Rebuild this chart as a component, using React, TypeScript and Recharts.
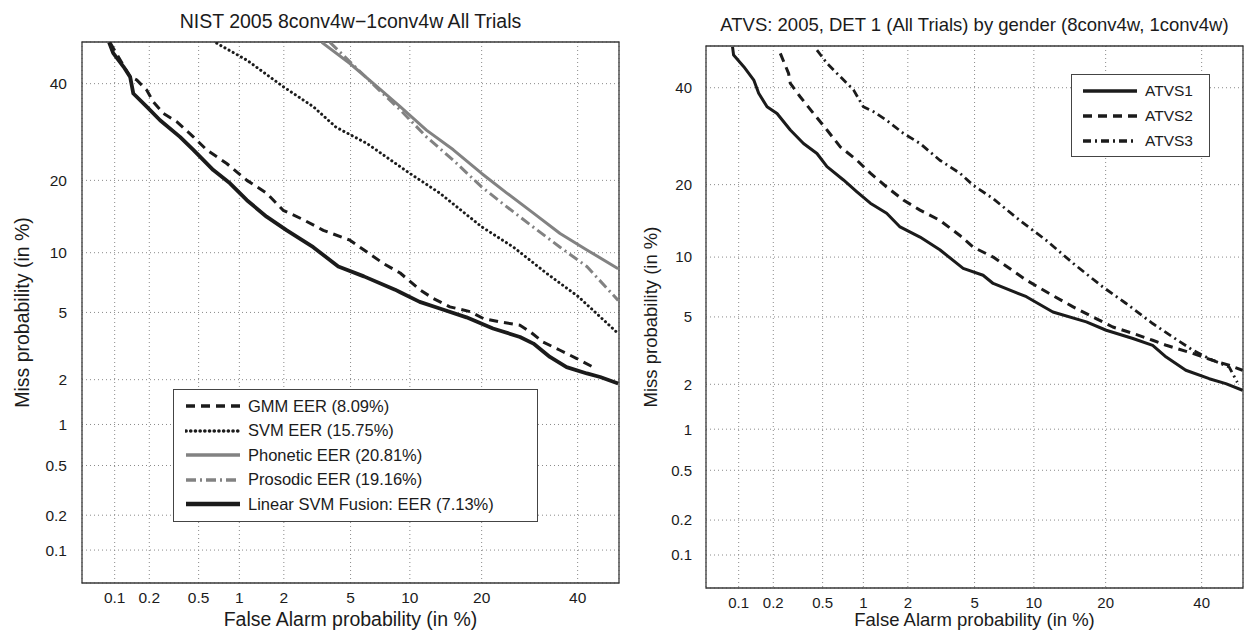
import React from 'react'
import { LineChart, Line, XAxis, YAxis, CartesianGrid, Legend, ReferenceArea } from 'recharts'

// DET plots: every value is a percentage, drawn on a normal-deviate (probit) scale
const tickLabels = [0.1, 0.2, 0.5, 1, 2, 5, 10, 20, 40]
const axisLimits = [0.05, 50]

// left: NIST 2005 8conv4w-1conv4w
const gmmPfa = [0.091, 0.137, 0.156, 0.19, 0.216, 0.262, 0.336, 0.455, 0.576, 0.811, 1.13, 1.54, 1.98, 2.65, 3.5, 4.96, 7.44, 9, 11.1, 12.75, 15, 18.1, 20.3, 23.3, 27.2, 29.3, 32.1, 35.9, 39.8, 43.7]
const gmmMiss = [49.8, 41.6, 40.9, 38.5, 35.8, 33.2, 31.4, 28.2, 25.6, 23, 20, 17.9, 15.3, 14, 12.6, 11.4, 8.9, 8, 6.6, 5.94, 5.36, 5.05, 4.63, 4.43, 4.25, 3.9, 3.4, 3.04, 2.71, 2.4]

const svmPfa = [0.685, 1.13, 1.98, 3.05, 4.15, 6.1, 10, 13.6, 20, 25.9, 32.9, 40.2, 49.8]
const svmMiss = [49.7, 45.6, 39.3, 34.7, 30.2, 26.9, 21.2, 17.9, 13.05, 10.6, 7.96, 6.06, 3.81]

const phoneticPfa = [3.43, 4.96, 7.15, 9, 11.9, 15.5, 20, 24.6, 30, 35.9, 42.2, 49.8]
const phoneticMiss = [49.9, 44.8, 38.7, 34.7, 29.6, 25.6, 21.2, 17.9, 14.9, 12.2, 10.3, 8.4]

const prosodicPfa = [3.83, 7.15, 9, 11.9, 15.5, 20, 24.6, 30, 35.9, 42.2, 49.8]
const prosodicMiss = [49.9, 38.3, 34, 28.2, 23.6, 18.9, 15.8, 13, 10.6, 8.6, 5.8]

const fusionPfa = [0.089, 0.097, 0.12, 0.137, 0.146, 0.19, 0.246, 0.357, 0.455, 0.646, 0.857, 1.13, 1.54, 2.09, 3.05, 4.27, 5.9, 8.5, 9, 11.1, 13.6, 17.5, 22, 27.2, 30, 33.6, 37.4, 42.2, 45.4, 49.8]
const fusionMiss = [49.9, 47.3, 44, 41.6, 37.7, 34.7, 31.7, 28.2, 25.6, 21.8, 19.5, 16.8, 14.4, 12.6, 10.6, 8.6, 7.7, 6.6, 6.4, 5.7, 5.25, 4.7, 4.07, 3.64, 3.33, 2.77, 2.4, 2.19, 2.08, 1.89]

// right: ATVS by gender
const atvs1Pfa = [0.088, 0.09, 0.111, 0.136, 0.15, 0.177, 0.215, 0.277, 0.354, 0.452, 0.54, 0.718, 0.9, 1.12, 1.45, 1.78, 2.39, 3.16, 4.32, 5.56, 6.29, 9.22, 12.2, 16.85, 20.1, 25, 29, 31.9, 36.3, 41.8, 45.8, 49.9]
const atvs1Miss = [49.8, 47.8, 45, 41.8, 38.7, 35.6, 34.1, 30.5, 27.7, 25.7, 23.2, 20.8, 18.8, 17, 15.5, 13.6, 12.3, 10.8, 8.85, 8.2, 7.47, 6.4, 5.32, 4.7, 4.22, 3.79, 3.46, 2.95, 2.45, 2.17, 2.02, 1.83]

const atvs2Pfa = [0.229, 0.268, 0.277, 0.333, 0.425, 0.54, 0.68, 0.9, 1.12, 1.45, 1.87, 2.39, 3.16, 4.14, 4.91, 6.29, 9.22, 11.4, 14.9, 18.4, 21.25, 25, 29, 31.9, 37.9, 42.6, 46.6, 49.9]
const atvs2Miss = [48.2, 43.4, 41, 37.9, 34.1, 30.5, 27, 24.4, 22, 19.6, 17.5, 15.95, 14.5, 12.5, 11.1, 10, 7.76, 6.78, 5.66, 4.9, 4.4, 4.05, 3.7, 3.46, 3.1, 2.82, 2.63, 2.45]

const atvs3Pfa = [0.452, 0.54, 0.68, 0.85, 1, 1.18, 1.45, 1.87, 2.39, 3.16, 4.14, 4.91, 6.29, 8.56, 11.4, 14.9, 19.5, 23.7, 29, 33.3, 37.9, 42.6, 46.6, 48.6]
const atvs3Miss = [49, 45.8, 42.6, 39.5, 35.6, 34.5, 32.6, 29.8, 27.7, 24.4, 22, 19.9, 17.7, 14.5, 11.9, 9.35, 7.18, 5.9, 4.6, 3.87, 3.24, 2.82, 2.57, 2.06]

// inverse normal CDF (Acklam)
function probit(p: number) {
  const a = [-39.69683028665376, 220.9460984245205, -275.9285104469687, 138.357751867269, -30.66479806614716, 2.506628277459239]
  const b = [-54.47609879822406, 161.5858368580409, -155.6989798598866, 66.80131188771972, -13.28068155288572]
  const c = [-0.007784894002430293, -0.3223964580411365, -2.400758277161838, -2.549732464746497, 4.374664141464968, 2.938163982698783]
  const d = [0.007784695709041462, 0.3224671290700398, 2.445134137142996, 3.754408661907416]
  const plow = 0.02425
  if (p < plow) {
    const q = Math.sqrt(-2 * Math.log(p))
    return (((((c[0] * q + c[1]) * q + c[2]) * q + c[3]) * q + c[4]) * q + c[5]) / ((((d[0] * q + d[1]) * q + d[2]) * q + d[3]) * q + 1)
  }
  if (p <= 1 - plow) {
    const q = p - 0.5
    const r = q * q
    return ((((((a[0] * r + a[1]) * r + a[2]) * r + a[3]) * r + a[4]) * r + a[5]) * q) / (((((b[0] * r + b[1]) * r + b[2]) * r + b[3]) * r + b[4]) * r + 1)
  }
  const q = Math.sqrt(-2 * Math.log(1 - p))
  return -(((((c[0] * q + c[1]) * q + c[2]) * q + c[3]) * q + c[4]) * q + c[5]) / ((((d[0] * q + d[1]) * q + d[2]) * q + d[3]) * q + 1)
}

const z = (pct: number) => probit(pct / 100)
const toPoints = (pfa: number[], miss: number[]) => pfa.map((p, i) => ({ x: z(p), y: z(miss[i]) }))

const ticks = tickLabels.map(z)
const lo = z(axisLimits[0])
const hi = z(axisLimits[1])
const fmtTick = (v: number) => {
  const hit = tickLabels.find((t) => Math.abs(z(t) - v) < 1e-6)
  return hit === undefined ? '' : String(hit)
}

type Series = {
  name: string
  pfa: number[]
  miss: number[]
  stroke: string
  width: number
  dash?: string
  cap?: 'round' | 'butt'
}

const INK = '#1b1b1b'
const GREY = '#828282'

const leftSeries: Series[] = [
  { name: 'GMM EER (8.09%)', pfa: gmmPfa, miss: gmmMiss, stroke: INK, width: 3, dash: '9 6' },
  { name: 'SVM EER (15.75%)', pfa: svmPfa, miss: svmMiss, stroke: INK, width: 3, dash: '0.1 4.6', cap: 'round' },
  { name: 'Phonetic EER (20.81%)', pfa: phoneticPfa, miss: phoneticMiss, stroke: GREY, width: 3 },
  { name: 'Prosodic EER (19.16%)', pfa: prosodicPfa, miss: prosodicMiss, stroke: GREY, width: 3, dash: '10 4 2 4' },
  { name: 'Linear SVM Fusion: EER (7.13%)', pfa: fusionPfa, miss: fusionMiss, stroke: INK, width: 3.8 },
]

const rightSeries: Series[] = [
  { name: 'ATVS1', pfa: atvs1Pfa, miss: atvs1Miss, stroke: INK, width: 3 },
  { name: 'ATVS2', pfa: atvs2Pfa, miss: atvs2Miss, stroke: INK, width: 3, dash: '9 6' },
  { name: 'ATVS3', pfa: atvs3Pfa, miss: atvs3Miss, stroke: INK, width: 2.8, dash: '8 4 2 4' },
]

type LegendBox = { left: number; top: number; width: number; padTop: number; row: number; inset: number; sample: number; gap: number; font: number }

function DetLegend({ series, box }: { series: Series[]; box: LegendBox }) {
  return (
    <div style={{ width: box.width, background: '#fff', border: '1px solid #444', boxSizing: 'border-box', paddingTop: box.padTop, paddingBottom: box.padTop }}>
      {series.map((s) => (
        <div key={s.name} style={{ display: 'flex', alignItems: 'center', height: box.row }}>
          <svg width={box.sample} height={10} style={{ marginLeft: box.inset, marginRight: box.gap, flex: 'none' }}>
            <line x1={1} y1={5} x2={box.sample - 1} y2={5} stroke={s.stroke} strokeWidth={s.width + 0.6} strokeDasharray={s.dash} strokeLinecap={s.cap ?? 'butt'} />
          </svg>
          <span style={{ fontSize: box.font, color: '#1b1b1b', whiteSpace: 'nowrap' }}>{s.name}</span>
        </div>
      ))}
    </div>
  )
}

type ChartProps = {
  series: Series[]
  width: number
  margin: { top: number; right: number; bottom: number; left: number }
  yAxisWidth: number
  tickFont: number
  labelFont: number
  xLabelOffset: number
  yTickGap: number
  legend: LegendBox
}

function DetChart({ series, width, margin, yAxisWidth, tickFont, labelFont, xLabelOffset, yTickGap, legend }: ChartProps) {
  return (
    <LineChart width={width} height={630} margin={margin}>
      <CartesianGrid stroke="#8a8a8a" strokeDasharray="1 3" />
      <XAxis
        type="number"
        dataKey="x"
        domain={[lo, hi]}
        ticks={ticks}
        tickFormatter={fmtTick}
        allowDataOverflow
        height={30}
        axisLine={false}
        tickLine={false}
        tickSize={0}
        tickMargin={9}
        tick={{ fontSize: tickFont, fill: '#1b1b1b' }}
        label={{ value: 'False Alarm probability (in %)', position: 'bottom', offset: xLabelOffset, fontSize: labelFont, fill: '#1b1b1b' }}
      />
      <YAxis
        type="number"
        domain={[lo, hi]}
        ticks={ticks}
        tickFormatter={fmtTick}
        allowDataOverflow
        width={yAxisWidth}
        axisLine={false}
        tickLine={false}
        tickSize={0}
        tickMargin={yTickGap}
        tick={{ fontSize: tickFont, fill: '#1b1b1b' }}
        label={{ value: 'Miss probability (in %)', angle: -90, position: 'insideLeft', offset: 0, fontSize: labelFont, fill: '#1b1b1b', style: { textAnchor: 'middle' } }}
      />
      <ReferenceArea x1={lo} x2={hi} y1={lo} y2={hi} fill="none" stroke="#3a3a3a" strokeWidth={1.3} />
      {series.map((s) => (
        <Line
          key={s.name}
          name={s.name}
          data={toPoints(s.pfa, s.miss)}
          dataKey="y"
          type="linear"
          stroke={s.stroke}
          strokeWidth={s.width}
          strokeDasharray={s.dash}
          strokeLinecap={s.cap ?? 'butt'}
          strokeLinejoin="round"
          dot={false}
          activeDot={false}
          isAnimationActive={false}
        />
      ))}
      <Legend
        layout="horizontal"
        verticalAlign="middle"
        align="center"
        wrapperStyle={{ left: legend.left, top: legend.top, width: legend.width }}
        content={() => <DetLegend series={series} box={legend} />}
      />
    </LineChart>
  )
}

export default function App() {
  return (
    <div style={{ position: 'absolute', left: 0, top: 0, width: 1244, height: 630, background: '#fff', overflow: 'hidden', fontFamily: '"Liberation Sans", Arial, sans-serif', color: '#1b1b1b' }}>
      <div style={{ position: 'absolute', left: 0, top: 12, width: 701, textAlign: 'center', fontSize: 19.5, lineHeight: 1, whiteSpace: 'nowrap' }}>
        NIST 2005 8conv4w−1conv4w All Trials
      </div>
      <div style={{ position: 'absolute', left: 622, top: 16, width: 705, textAlign: 'center', fontSize: 18.5, lineHeight: 1, whiteSpace: 'nowrap' }}>
        ATVS: 2005, DET 1 (All Trials) by gender (8conv4w, 1conv4w)
      </div>
      <div style={{ position: 'absolute', left: 0, top: 0 }}>
        <DetChart
          series={leftSeries}
          width={622}
          margin={{ top: 42, right: 3, bottom: 17, left: 22 }}
          yAxisWidth={60}
          tickFont={15.5}
          labelFont={19.5}
          xLabelOffset={-1}
          yTickGap={15}
          legend={{ left: 173, top: 389, width: 365, padTop: 4, row: 24.5, inset: 11, sample: 56, gap: 7, font: 16.5 }}
        />
      </div>
      <div style={{ position: 'absolute', left: 622, top: 0 }}>
        <DetChart
          series={rightSeries}
          width={622}
          margin={{ top: 46, right: 1, bottom: 12, left: 28 }}
          yAxisWidth={56}
          tickFont={15}
          labelFont={18.5}
          xLabelOffset={-5}
          yTickGap={14}
          legend={{ left: 449, top: 74, width: 139, padTop: 3, row: 25, inset: 10, sample: 56, gap: 7, font: 15.5 }}
        />
      </div>
    </div>
  )
}
